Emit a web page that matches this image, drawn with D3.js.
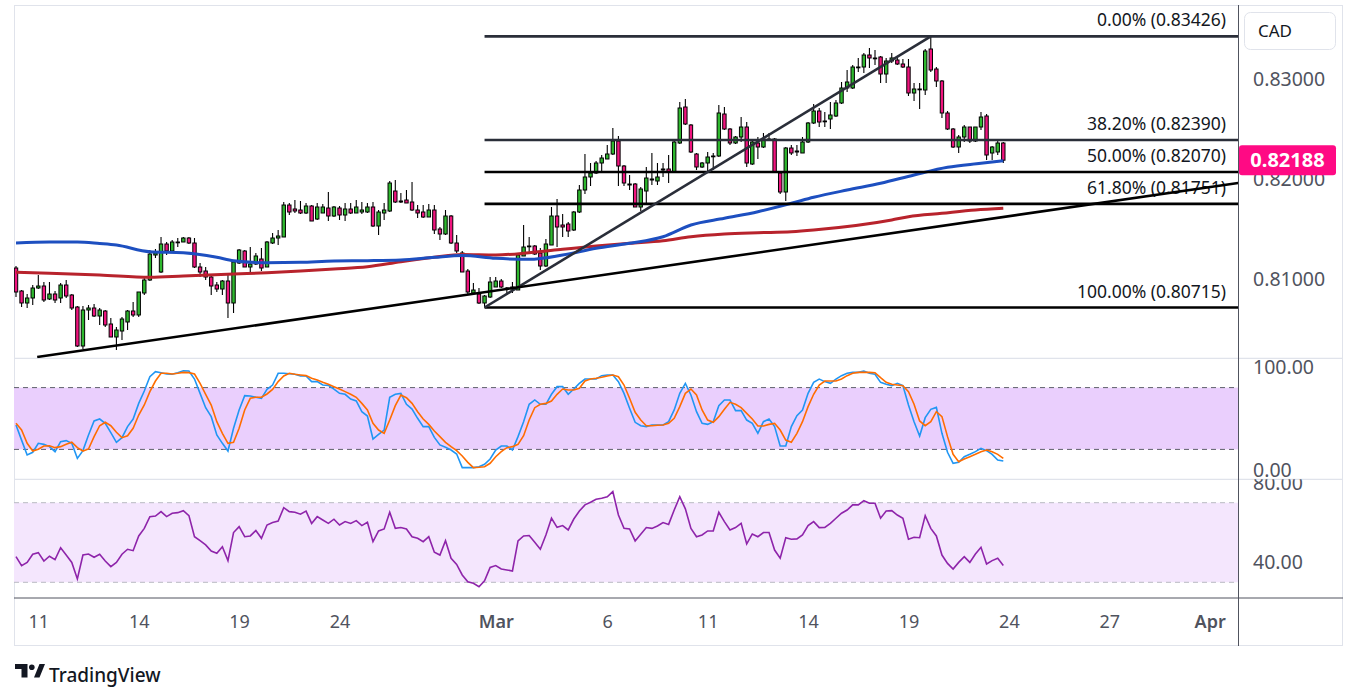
<!DOCTYPE html>
<html>
<head>
<meta charset="utf-8">
<script src="https://cdn.jsdelivr.net/npm/d3@7"></script>
<style>
  html, body { margin: 0; padding: 0; background: #fff; }
  svg { display: block; font-family: "Noto Sans", sans-serif; }
</style>
</head>
<body>
<script>
// ---- data (4h candles, index 0 = first visible bar) ----
var opens = [0.8111,0.8088,0.8076,0.8081,0.8091,0.8093,0.8080,0.8085,0.8081,0.8094,
  0.8084,0.8072,0.8033,0.8069,0.8071,0.8063,0.8068,0.8055,0.8042,0.8048,
  0.8057,0.8068,0.8064,0.8086,0.8099,0.8124,0.8107,0.8135,0.8128,0.8137,
  0.8137,0.8141,0.8136,0.8112,0.8108,0.8102,0.8094,0.8090,0.8098,0.8076,
  0.8116,0.8128,0.8112,0.8115,0.8120,0.8112,0.8136,0.8141,0.8142,0.8174,
  0.8170,0.8169,0.8166,0.8173,0.8160,0.8166,0.8171,0.8163,0.8171,0.8164,
  0.8170,0.8166,0.8167,0.8167,0.8172,0.8153,0.8166,0.8168,0.8188,0.8177,
  0.8179,0.8177,0.8169,0.8167,0.8162,0.8169,0.8150,0.8145,0.8163,0.8136,
  0.8126,0.8108,0.8086,0.8085,0.8076,0.8082,0.8092,0.8098,0.8091,0.8090,
  0.8089,0.8123,0.8133,0.8133,0.8126,0.8113,0.8134,0.8163,0.8154,0.8155,
  0.8149,0.8167,0.8189,0.8202,0.8206,0.8216,0.8220,0.8225,0.8238,0.8213,
  0.8195,0.8195,0.8172,0.8188,0.8200,0.8198,0.8210,0.8210,0.8207,0.8236,
  0.8272,0.8254,0.8225,0.8212,0.8216,0.8223,0.8223,0.8265,0.8250,0.8236,
  0.8242,0.8252,0.8215,0.8236,0.8232,0.8240,0.8240,0.8206,0.8187,0.8231,
  0.8227,0.8226,0.8237,0.8256,0.8268,0.8258,0.8260,0.8263,0.8276,0.8291,
  0.8291,0.8312,0.8312,0.8324,0.8321,0.8322,0.8305,0.8318,0.8319,0.8315,
  0.8312,0.8286,0.8290,0.8289,0.8330,0.8310,0.8298,0.8266,0.8250,0.8232,
  0.8242,0.8252,0.8238,0.8252,0.8263,0.8226,0.8227,0.8236];

var highs = [0.8113,0.8089,0.8085,0.8094,0.8104,0.8097,0.8097,0.8088,0.8096,0.8099,
  0.8085,0.8073,0.8073,0.8074,0.8075,0.8071,0.8069,0.8061,0.8052,0.8062,
  0.8069,0.8077,0.8087,0.8102,0.8129,0.8130,0.8142,0.8137,0.8139,0.8141,
  0.8142,0.8142,0.8141,0.8116,0.8112,0.8103,0.8097,0.8099,0.8106,0.8119,
  0.8130,0.8129,0.8132,0.8126,0.8131,0.8138,0.8146,0.8149,0.8177,0.8176,
  0.8179,0.8178,0.8176,0.8174,0.8176,0.8175,0.8187,0.8173,0.8173,0.8176,
  0.8176,0.8179,0.8177,0.8176,0.8177,0.8169,0.8176,0.8198,0.8199,0.8186,
  0.8189,0.8197,0.8174,0.8174,0.8175,0.8174,0.8152,0.8169,0.8164,0.8144,
  0.8128,0.8110,0.8096,0.8091,0.8084,0.8102,0.8102,0.8100,0.8092,0.8097,
  0.8126,0.8154,0.8142,0.8134,0.8131,0.8140,0.8172,0.8180,0.8165,0.8157,
  0.8168,0.8194,0.8225,0.8216,0.8218,0.8224,0.8234,0.8251,0.8243,0.8214,
  0.8204,0.8196,0.8192,0.8212,0.8226,0.8216,0.8216,0.8224,0.8238,0.8277,
  0.8280,0.8255,0.8226,0.8217,0.8227,0.8226,0.8274,0.8272,0.8251,0.8243,
  0.8262,0.8257,0.8239,0.8242,0.8246,0.8246,0.8241,0.8206,0.8232,0.8234,
  0.8234,0.8242,0.8257,0.8275,0.8271,0.8267,0.8277,0.8279,0.8297,0.8309,
  0.8314,0.8321,0.8326,0.8331,0.8329,0.8323,0.8321,0.8326,0.8322,0.8320,
  0.8320,0.8296,0.8296,0.8330,0.83426,0.8312,0.8299,0.8268,0.8251,0.8244,
  0.8254,0.8252,0.8252,0.8267,0.8265,0.8233,0.8239,0.8237];

var lows = [0.8082,0.8072,0.8071,0.8074,0.8090,0.8077,0.8079,0.8076,0.8076,0.8081,
  0.8069,0.8032,0.8030,0.8059,0.8062,0.8054,0.8052,0.8042,0.8029,0.8039,
  0.8049,0.8062,0.8062,0.8084,0.8098,0.8121,0.8106,0.8124,0.8127,0.8132,
  0.8137,0.8135,0.8111,0.8102,0.8099,0.8084,0.8087,0.8084,0.8061,0.8066,
  0.8115,0.8112,0.8106,0.8114,0.8108,0.8112,0.8135,0.8134,0.8142,0.8164,
  0.8166,0.8165,0.8165,0.8158,0.8159,0.8166,0.8158,0.8162,0.8159,0.8158,
  0.8165,0.8166,0.8165,0.8166,0.8152,0.8144,0.8159,0.8167,0.8176,0.8176,
  0.8176,0.8168,0.8161,0.8161,0.8162,0.8145,0.8139,0.8144,0.8135,0.8126,
  0.8107,0.8085,0.8084,0.8075,0.80715,0.8081,0.8092,0.8091,0.8084,0.8086,
  0.8089,0.8123,0.8125,0.8124,0.8109,0.8112,0.8134,0.8132,0.8142,0.8142,
  0.8148,0.8166,0.8185,0.8193,0.8205,0.8207,0.8220,0.8224,0.8193,0.8193,
  0.8189,0.8172,0.8168,0.8176,0.8194,0.8194,0.8202,0.8196,0.8207,0.8235,
  0.8254,0.8226,0.8209,0.8211,0.8206,0.8209,0.8222,0.8249,0.8234,0.8235,
  0.8237,0.8212,0.8214,0.8220,0.8231,0.8239,0.8207,0.8185,0.8178,0.8224,
  0.8223,0.8226,0.8236,0.8255,0.8252,0.8252,0.8250,0.8262,0.8275,0.8287,
  0.8290,0.8307,0.8306,0.8311,0.8314,0.8296,0.8296,0.8316,0.8314,0.8311,
  0.8283,0.8278,0.8270,0.8284,0.8307,0.8292,0.8261,0.8249,0.8231,0.8226,
  0.8237,0.8236,0.8237,0.8249,0.8219,0.8219,0.8224,0.8216];

var closes = [0.8087,0.8076,0.8081,0.8091,0.8093,0.8079,0.8085,0.8079,0.8094,0.8083,
  0.8071,0.8033,0.8069,0.8071,0.8063,0.8069,0.8054,0.8042,0.8049,0.8060,
  0.8068,0.8064,0.8087,0.8099,0.8125,0.8126,0.8135,0.8128,0.8137,0.8137,
  0.8141,0.8136,0.8112,0.8107,0.8102,0.8093,0.8090,0.8098,0.8076,0.8117,
  0.8129,0.8112,0.8115,0.8123,0.8111,0.8137,0.8141,0.8143,0.8174,0.8167,
  0.8168,0.8166,0.8173,0.8158,0.8172,0.8172,0.8163,0.8172,0.8164,0.8170,
  0.8166,0.8172,0.8169,0.8172,0.8153,0.8167,0.8169,0.8196,0.8177,0.8178,
  0.8176,0.8169,0.8166,0.8162,0.8169,0.8149,0.8145,0.8163,0.8136,0.8128,
  0.8107,0.8087,0.8089,0.8076,0.8083,0.8097,0.8098,0.8092,0.8091,0.8092,
  0.8124,0.8132,0.8133,0.8125,0.8113,0.8135,0.8163,0.8152,0.8152,0.8148,
  0.8167,0.8189,0.8202,0.8206,0.8216,0.8221,0.8225,0.8238,0.8213,0.8196,
  0.8194,0.8172,0.8190,0.8201,0.8199,0.8202,0.8209,0.8207,0.8237,0.8271,
  0.8255,0.8227,0.8212,0.8216,0.8222,0.8223,0.8266,0.8250,0.8236,0.8242,
  0.8252,0.8216,0.8237,0.8232,0.8240,0.8239,0.8207,0.8187,0.8231,0.8226,
  0.8228,0.8237,0.8256,0.8268,0.8257,0.8258,0.8264,0.8276,0.8291,0.8297,
  0.8312,0.8312,0.8324,0.8321,0.8321,0.8305,0.8318,0.8321,0.8315,0.8312,
  0.8286,0.8290,0.8290,0.8328,0.8309,0.8298,0.8266,0.8250,0.8232,0.8242,
  0.8252,0.8238,0.8252,0.8262,0.8224,0.8232,0.8236,0.82188];

// moving averages, read at these bar indices
var maBlueIdx = [0,6,11,15,18,24,30,36,39,45,51,57,63,69,75,80,86,92,98,104,110,116,121,127,133,139,143,149,155,161,167,173,177];
var maBlue = [0.8136,0.8137,0.8137,0.81355,0.8134,0.81273,0.81263,0.81217,0.81183,0.81163,0.81167,0.8118,0.81183,0.8119,0.81217,0.81235,0.81207,0.81197,0.8124,0.81307,0.81357,0.81423,0.8154,0.81607,0.81673,0.81757,0.81817,0.8189,0.81957,0.8204,0.82117,0.82157,0.82183];
var maRedIdx = [0,6,15,24,30,39,45,51,57,63,69,75,80,86,92,98,104,110,116,121,127,133,139,143,157,160,166,172,177];
var maRed = [0.81067,0.81057,0.8104,0.81017,0.8103,0.8105,0.81063,0.8108,0.811,0.81123,0.81173,0.81217,0.81245,0.8124,0.81263,0.81297,0.8133,0.81357,0.81383,0.81423,0.8145,0.81463,0.81473,0.8149,0.8159,0.81623,0.81657,0.8169,0.81707];

var stochK = [43.7,29,14.6,17.2,25.9,24.9,22.7,17.8,27.5,28.5,
  25.9,11.3,18.8,34,47.6,49.5,45.3,36.2,26.9,31.4,
  42.1,49.5,64.7,76.7,90.6,95.5,94.5,93.2,92.9,94.5,
  96.4,96.1,88.3,74.4,60.5,51.8,34,25.9,18.4,40.5,
  58.3,72.2,71.8,70.6,69.6,78.3,82.5,93.9,93.9,93.5,
  92.9,91.3,91.3,85.8,85.8,82.5,82.2,78.6,74.4,73.5,
  68.9,67,56.6,52.4,30.1,34.6,38.8,70.6,73.5,74.4,
  63.8,59.2,50.2,42.1,42.1,31.7,24.3,22,19.4,15.5,
  2.3,2.3,2.3,3.2,5.5,10.7,19.4,23.3,23.3,19.4,
  32.4,46.9,63.8,68,63.8,63.8,73.5,80.9,80.9,73.5,
  78.6,84.1,88.3,88.3,88.3,91.6,92.2,92.2,85.8,74.4,
  59.9,46.3,43,42.1,43.7,43.7,43.7,46.9,58.3,74.4,
  84.1,72.8,56.6,45.3,44.3,46.9,62.5,68,68,57.6,
  57.6,48.5,45.3,35.6,46.9,49.5,42.1,23.3,23.3,42.1,
  52.8,58.3,74.4,85.1,88.3,85.8,84.1,88.3,91.6,93.9,
  94.8,94.8,96.1,93.9,92.9,85.1,83.2,81.9,84.1,81.9,
  63.1,46.9,33,50.8,58.9,60.8,35.6,17.2,6.5,7.4,
  12.9,15.2,17.8,21,18.8,15.2,9.7,8.7];

var stochD = [45.3,38.8,25.9,18.4,20.1,23.3,23.6,21.7,22.7,24.9,
  26.9,21.7,18.4,20.4,32.4,43,46.3,43,36.6,31.4,
  33.3,40.5,53.4,63.1,76.1,86.4,93.9,93.9,93.2,93.9,
  94.8,94.5,93.2,84.1,73.5,63.1,46.9,35.6,25.9,26.9,
  40.5,58.3,69.6,70.6,70.6,73.8,78.3,85.8,91.3,93.9,
  92.9,92.2,91.6,89,87.4,85.1,83.2,80.9,78.6,76.1,
  73.5,70.6,64.7,58.3,45.3,38.8,35.6,48.5,62.5,72.8,
  70.2,64.7,56.6,49.5,44.3,37.9,32.4,26.9,22.7,18.8,
  13.6,7.4,2.3,2.6,3.2,6.5,12.9,17.8,21.7,22.7,
  24.9,33.3,48.5,60.5,63.8,64.7,67,73.5,78.6,77.7,
  77.7,79.3,86.4,88.3,89,90,91.3,92.2,90.6,82.5,
  69.6,56,48.5,43,43,43.4,43.7,45.3,50.2,61.5,
  74.4,78.6,72.8,58.3,48.5,46.3,51.8,58.9,65.7,63.8,
  60.5,55,49.5,42.7,42.7,44.3,45.3,38.8,29.1,26.9,
  35.6,46.9,61.5,73.5,82.5,86.4,86.4,86.4,88.3,91.6,
  93.9,94.8,94.8,94.8,94.5,89.6,85.1,83.2,82.5,81.9,
  76.1,63.8,47.6,43,46.9,56.6,51.8,32.4,15.2,8.1,
  10.7,12.9,15.2,17.8,19.4,17.8,15.2,11.3];

var rsi = [42.9,38.4,40,44.1,44.9,40.7,43.1,41.4,47.4,43.7,
  40,31.7,43.7,44.2,42.6,44.1,40.7,37.9,40,44.1,
  46.6,45.9,53.3,57.1,63,63.3,65.5,63,64.7,65,
  66,63.5,52.9,50.9,48.8,45.7,44.6,47.9,40.9,55,
  58,52.9,53.3,56,52.1,58.8,60,60.8,67.5,65.5,
  65.2,64.2,65.8,59.6,63,61.3,59.6,61.7,58.8,60.5,
  59.6,61,58.5,60.2,50.4,55.8,56.8,65.2,57.1,57.5,
  56.8,52.9,52.1,50.4,52.9,45.1,43.7,50.9,42.1,39,
  33.7,30.3,29.5,27.8,30.8,37.5,38.4,36.7,36.2,35.7,
  50.8,53.3,53.5,50.1,46.6,53.8,62.2,57.6,58.5,56.3,
  61.8,65.8,68.9,70.2,71.7,72.2,73,75.6,63.8,57.1,
  56.8,50.8,54.1,57.5,57.1,58.3,60,59.1,66.3,73,
  66.9,57.1,52.9,53.8,55.8,55.8,65.2,60.5,56.3,57.5,
  59.6,49.3,54.3,52.9,55,55,46.2,42.1,52.4,51.6,
  51.8,53.8,58.5,60.5,57.5,57.6,59.6,62.2,64.7,66.3,
  68.9,68.9,71,69.7,69.7,62.2,65.8,66,63.8,62.2,
  51.6,52.6,52.4,63.5,57.1,53.3,43.7,39.5,36.7,40,
  42.9,40,44.2,47.6,39.2,40.9,42.1,38.4];

// fibonacci retracement (anchored low bar 84 -> high bar 164)
var fibLevels = [0, 0.382, 0.5, 0.618, 1];
var fibPrices = [0.83426, 0.82390, 0.82070, 0.81751, 0.80715];
var fibColors = ['#2a2e39', '#2a2e39', '#000000', '#000000', '#000000'];
var fibStart = 84;

// drawn trend lines: [bar index, price]
var fibDiagonal = [[84, 0.80715], [164, 0.83426]];
var supportLine = [[3.8, 0.8022], [219.1, 0.8196]];

// time axis
var timeTickIdx = [4, 22, 40, 58, 86, 106, 124, 142, 160, 178, 196, 214];
var timeTickLabels = ['11', '14', '19', '24', 'Mar', '6', '11', '14', '19', '24', '27', 'Apr'];
var bold = { 'Mar': 1, 'Apr': 1 };

var priceTicks = [0.83, 0.82, 0.81];
var stochTicks = [100, 0];
var rsiTicks = [80, 40];
var lastPrice = 0.82188;
var currency = 'CAD';

// ---- layout ----
var W = 1358, H = 699;
var left = 14, axisX = 1238.5, right = 1343, topY = 5;
var mainBottom = 358.3, stochBottom = 479.3, rsiBottom = 598, frameBottom = 646;

var x = d3.scaleLinear().domain([0, 177]).range([16, 1003.3]);
var y = d3.scaleLinear().domain([0.81, 0.83]).range([279, 79]);
var yS = d3.scaleLinear().domain([0, 100]).range([470, 367]);
var yR = d3.scaleLinear().domain([30, 70]).range([582.3, 502.7]);

var svg = d3.select('body').append('svg')
  .attr('width', W)
  .attr('height', H);

var defs = svg.append('defs');
function clip(id, x0, y0, x1, y1) {
  defs.append('clipPath').attr('id', id)
    .append('rect').attr('x', x0).attr('y', y0).attr('width', x1 - x0).attr('height', y1 - y0);
}
clip('cMain', left, topY, axisX, mainBottom);
clip('cStoch', left, mainBottom, axisX, stochBottom);
clip('cRsi', left, stochBottom, axisX, rsiBottom);
clip('aStoch', axisX, mainBottom, right, stochBottom);
clip('aRsi', axisX, stochBottom, right, rsiBottom);

// frame + pane separators
svg.append('rect')
  .attr('x', left + 0.5).attr('y', topY + 0.5)
  .attr('width', right - left - 1).attr('height', frameBottom - topY - 1)
  .attr('fill', 'none').attr('stroke', '#e0e3eb');

[mainBottom, stochBottom].forEach(function(v) {
  svg.append('line').attr('x1', left).attr('x2', right).attr('y1', v).attr('y2', v)
    .attr('stroke', '#e0e3eb').attr('stroke-width', 1.2);
});

// ---- oscillator backgrounds ----
var stochG = svg.append('g').attr('clip-path', 'url(#cStoch)');
stochG.append('rect')
  .attr('x', left).attr('width', axisX - left)
  .attr('y', yS(80)).attr('height', yS(20) - yS(80))
  .attr('fill', '#eacffd');
[80, 20].forEach(function(v) {
  stochG.append('line').attr('x1', left).attr('x2', axisX).attr('y1', yS(v)).attr('y2', yS(v))
    .attr('stroke', '#5d606b').attr('stroke-dasharray', '5,4');
});

var rsiG = svg.append('g').attr('clip-path', 'url(#cRsi)');
rsiG.append('rect')
  .attr('x', left).attr('width', axisX - left)
  .attr('y', yR(70)).attr('height', yR(30) - yR(70))
  .attr('fill', '#f4e6fd');
[70, 30].forEach(function(v) {
  rsiG.append('line').attr('x1', left).attr('x2', axisX).attr('y1', yR(v)).attr('y2', yR(v))
    .attr('stroke', '#b8bac2').attr('stroke-dasharray', '5,4');
});

var idxLine = function(scale) {
  return d3.line()
    .x(function(d, i) { return x(i); })
    .y(function(d) { return scale(d); });
};

stochG.append('path').datum(stochK).attr('d', idxLine(yS))
  .attr('fill', 'none').attr('stroke', '#2196f3').attr('stroke-width', 1.6);
stochG.append('path').datum(stochD).attr('d', idxLine(yS))
  .attr('fill', 'none').attr('stroke', '#ff6d00').attr('stroke-width', 1.6);
rsiG.append('path').datum(rsi).attr('d', idxLine(yR))
  .attr('fill', 'none').attr('stroke', '#8e24aa').attr('stroke-width', 1.6);

// ---- main pane ----
var mainG = svg.append('g').attr('clip-path', 'url(#cMain)');

var bars = opens.map(function(o, i) {
  return { i: i, o: o, h: highs[i], l: lows[i], c: closes[i] };
});

var candle = mainG.append('g').selectAll('g')
  .data(bars)
  .join('g');

candle.append('line')
  .attr('x1', function(d) { return x(d.i); })
  .attr('x2', function(d) { return x(d.i); })
  .attr('y1', function(d) { return y(d.h); })
  .attr('y2', function(d) { return y(d.l); })
  .attr('stroke', '#000').attr('stroke-width', 1.1);

candle.append('rect')
  .attr('x', function(d) { return x(d.i) - 1.7; })
  .attr('width', 3.4)
  .attr('y', function(d) { return y(Math.max(d.o, d.c)); })
  .attr('height', function(d) { return Math.max(0.8, Math.abs(y(d.o) - y(d.c))); })
  .attr('fill', function(d) { return d.c >= d.o ? '#2eb82e' : '#f0147e'; })
  .attr('stroke', '#000').attr('stroke-width', 1);

var maLine = d3.line()
  .x(function(d) { return x(d[0]); })
  .y(function(d) { return y(d[1]); })
  .curve(d3.curveMonotoneX);

mainG.append('path')
  .datum(maRedIdx.map(function(d, k) { return [d, maRed[k]]; }))
  .attr('d', maLine)
  .attr('fill', 'none').attr('stroke', '#b8232c').attr('stroke-width', 3);
mainG.append('path')
  .datum(maBlueIdx.map(function(d, k) { return [d, maBlue[k]]; }))
  .attr('d', maLine)
  .attr('fill', 'none').attr('stroke', '#1d4fc0').attr('stroke-width', 3);

// fib levels
fibPrices.forEach(function(p, k) {
  mainG.append('line')
    .attr('x1', x(fibStart)).attr('x2', axisX)
    .attr('y1', y(p)).attr('y2', y(p))
    .attr('stroke', fibColors[k]).attr('stroke-width', 2.6);
  mainG.append('text')
    .attr('x', 1226).attr('y', y(p) - 10)
    .attr('text-anchor', 'end')
    .attr('font-size', 17.5)
    .attr('fill', '#131722')
    .text((fibLevels[k] * 100).toFixed(2) + '% (' + p.toFixed(5) + ')');
});

var segLine = d3.line()
  .x(function(d) { return x(d[0]); })
  .y(function(d) { return y(d[1]); });

mainG.append('path').datum(fibDiagonal).attr('d', segLine)
  .attr('stroke', '#2a2e39').attr('stroke-width', 2.6).attr('fill', 'none');
mainG.append('path').datum(supportLine).attr('d', segLine)
  .attr('stroke', '#000').attr('stroke-width', 2.6).attr('fill', 'none');

// ---- axes ----
svg.append('line').attr('x1', axisX).attr('x2', axisX).attr('y1', topY).attr('y2', frameBottom)
  .attr('stroke', '#50535e');
svg.append('line').attr('x1', left).attr('x2', right).attr('y1', rsiBottom).attr('y2', rsiBottom)
  .attr('stroke', '#50535e');

function styleAxis(g, size) {
  g.select('.domain').remove();
  g.selectAll('text').attr('fill', '#50535e').attr('font-size', size)
    .attr('font-family', '"Noto Sans", sans-serif');
}

svg.append('g')
  .attr('transform', 'translate(' + axisX + ',0)')
  .call(d3.axisRight(y).tickValues(priceTicks).tickSize(0).tickPadding(14.5)
    .tickFormat(function(d) { return d.toFixed(5); }))
  .call(styleAxis, 19.5);

svg.append('g')
  .attr('clip-path', 'url(#aStoch)')
  .append('g')
  .attr('transform', 'translate(' + axisX + ',0)')
  .call(d3.axisRight(yS).tickValues(stochTicks).tickSize(0).tickPadding(14.5)
    .tickFormat(function(d) { return d.toFixed(2); }))
  .call(styleAxis, 19.5);

svg.append('g')
  .attr('clip-path', 'url(#aRsi)')
  .append('g')
  .attr('transform', 'translate(' + axisX + ',0)')
  .call(d3.axisRight(yR).tickValues(rsiTicks).tickSize(0).tickPadding(14.5)
    .tickFormat(function(d) { return d.toFixed(2); }))
  .call(styleAxis, 19.5);

var xAxis = svg.append('g')
  .attr('transform', 'translate(0,' + rsiBottom + ')')
  .call(d3.axisBottom(x).tickValues(timeTickIdx).tickSize(0).tickPadding(17)
    .tickFormat(function(d, i) { return timeTickLabels[i]; }))
  .call(styleAxis, 18);
xAxis.selectAll('text').attr('font-weight', function(d, i) {
  return bold[timeTickLabels[i]] ? 600 : 400;
});

// last price label
var lp = y(lastPrice);
svg.append('rect')
  .attr('x', axisX + 0.5).attr('y', lp - 15).attr('width', 97).attr('height', 30)
  .attr('rx', 3).attr('fill', '#ff0a84');
svg.append('text')
  .attr('x', axisX + 49).attr('y', lp + 7)
  .attr('text-anchor', 'middle')
  .attr('font-size', 20).attr('font-weight', 700).attr('fill', '#fff')
  .text(lastPrice.toFixed(5));

// currency box
svg.append('rect')
  .attr('x', 1244.5).attr('y', 12.5).attr('width', 91).attr('height', 37).attr('rx', 6)
  .attr('fill', '#fff').attr('stroke', '#e0e3eb');
svg.append('text')
  .attr('x', 1258).attr('y', 37)
  .attr('font-size', 17).attr('fill', '#131722')
  .text(currency);

// TradingView logo
var logo = svg.append('g').attr('fill', '#131722');
logo.append('path').attr('d', 'M15,664H27.5V677.5H21.5V669H15Z');
logo.append('circle').attr('cx', 31.8).attr('cy', 667.2).attr('r', 2.8);
logo.append('path').attr('d', 'M34,677.5L39.5,664H45L39.5,677.5Z');
logo.append('text').attr('x', 49).attr('y', 682)
  .attr('font-size', 19).attr('font-weight', 500)
  .text('TradingView');
</script>
</body>
</html>
